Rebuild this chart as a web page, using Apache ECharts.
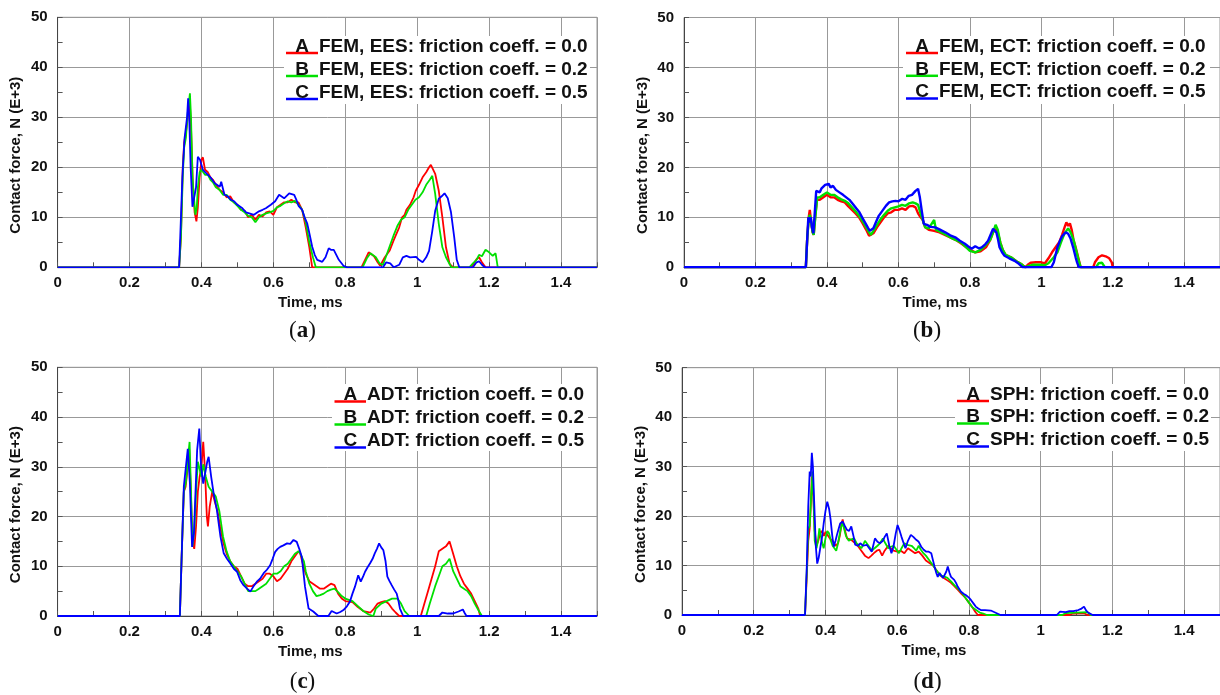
<!DOCTYPE html>
<html><head><meta charset="utf-8">
<script src="https://cdn.jsdelivr.net/npm/echarts@6/dist/echarts.min.js"></script>
<style>html,body{margin:0;padding:0;background:#fff}#c{width:1220px;height:695px}</style>
</head><body><div id="c"></div>
<script>
const letters = ['A', 'B', 'C'];
const colors = ['#ff0000', '#00e000', '#0000ff'];
const panelLetters = ['a', 'b', 'c', 'd'];
const xTitle = 'Time, ms';
const yTitle = 'Contact force, N (E+3)';
const legendTexts = [
  ['FEM, EES: friction coeff. = 0.0', 'FEM, EES: friction coeff. = 0.2', 'FEM, EES: friction coeff. = 0.5'],
  ['FEM, ECT: friction coeff. = 0.0', 'FEM, ECT: friction coeff. = 0.2', 'FEM, ECT: friction coeff. = 0.5'],
  ['ADT: friction coeff. = 0.0', 'ADT: friction coeff. = 0.2', 'ADT: friction coeff. = 0.5'],
  ['SPH: friction coeff. = 0.0', 'SPH: friction coeff. = 0.2', 'SPH: friction coeff. = 0.5']
];

// (a) FEM, EES
const a_A = [[0,0],[0.338,0],[0.343,6],[0.348,20],[0.352,25],[0.357,27],[0.362,30],[0.368,32.5],[0.371,28],[0.376,17],[0.381,11],[0.386,9.2],[0.39,12],[0.395,18],[0.4,21.5],[0.404,22],[0.41,19.5],[0.418,19],[0.425,18],[0.432,17.5],[0.44,16.5],[0.45,15.5],[0.46,15],[0.47,14],[0.48,14.2],[0.49,13],[0.5,12.5],[0.51,11.5],[0.52,11.3],[0.53,10],[0.54,10.5],[0.55,9.5],[0.56,10.5],[0.57,10.2],[0.58,11],[0.59,11.2],[0.6,10.5],[0.61,12],[0.62,12.5],[0.63,13],[0.64,13],[0.65,13.5],[0.66,13],[0.67,13],[0.68,11.5],[0.69,8],[0.7,4],[0.708,0],[0.845,0],[0.855,1.5],[0.865,3],[0.87,3.3],[0.88,2.2],[0.89,1],[0.897,0.3],[0.91,2],[0.923,3.3],[0.935,5.5],[0.95,8],[0.958,10],[0.965,10.5],[0.97,11.5],[0.98,12.5],[0.99,14],[0.996,15.3],[1.005,16.5],[1.015,18],[1.025,19],[1.033,20],[1.038,20.5],[1.042,20.1],[1.05,18.7],[1.06,15.3],[1.07,10],[1.08,4],[1.09,0.7],[1.1,0],[1.15,0],[1.158,0.8],[1.165,1.6],[1.172,2],[1.18,1],[1.19,0],[1.5,0]];
const a_B = [[0,0],[0.338,0],[0.343,6],[0.348,18],[0.352,24],[0.357,26],[0.362,31],[0.368,34.8],[0.371,30],[0.375,18],[0.383,10.5],[0.387,12],[0.39,16],[0.395,19],[0.4,19.5],[0.41,18.5],[0.418,18.5],[0.425,17.5],[0.432,17],[0.44,16],[0.45,15.5],[0.46,14.5],[0.47,14.5],[0.48,13.5],[0.49,13],[0.5,12.3],[0.51,11.5],[0.52,11],[0.53,10.3],[0.54,10],[0.55,9],[0.56,10],[0.57,10.5],[0.58,10.8],[0.59,11],[0.6,11.3],[0.61,12],[0.62,12.3],[0.63,12.8],[0.64,13.2],[0.65,13],[0.66,13.3],[0.67,12.5],[0.68,11.5],[0.69,9],[0.7,5],[0.71,2],[0.718,0],[0.848,0],[0.86,1.8],[0.87,2.8],[0.875,3],[0.885,2],[0.895,0.8],[0.905,0.5],[0.915,2.5],[0.925,4.5],[0.935,6.5],[0.945,8.3],[0.955,9.5],[0.965,10],[0.975,11.5],[0.985,12.5],[0.995,13.5],[1.005,14],[1.015,15],[1.025,16.5],[1.035,17.5],[1.042,18.3],[1.05,14.7],[1.06,8.7],[1.07,4],[1.08,2],[1.095,0],[1.145,0],[1.155,0.8],[1.165,1.5],[1.172,2.5],[1.18,2.2],[1.19,3.5],[1.2,3],[1.21,2.3],[1.218,2.8],[1.224,0],[1.5,0]];
const a_C = [[0,0],[0.338,0],[0.342,8],[0.347,18],[0.353,25.8],[0.357,26],[0.36,30],[0.363,33.8],[0.366,30],[0.37,20],[0.375,12.1],[0.38,12.5],[0.385,16],[0.39,22.1],[0.396,21.5],[0.404,19.5],[0.418,18.5],[0.425,18],[0.437,16.8],[0.451,16.1],[0.455,17.1],[0.464,14.5],[0.473,14.2],[0.482,13.5],[0.491,13.2],[0.5,12.5],[0.514,11.8],[0.524,11],[0.533,10.8],[0.546,10.5],[0.56,11.2],[0.57,11.5],[0.579,11.8],[0.593,12.5],[0.605,13.2],[0.616,14.5],[0.63,13.8],[0.644,14.8],[0.658,14.5],[0.664,13.5],[0.67,12.3],[0.68,11.5],[0.687,10],[0.694,8.8],[0.701,6.5],[0.708,4.1],[0.715,2.5],[0.722,1.5],[0.736,1.1],[0.745,2],[0.754,3.8],[0.76,3.5],[0.768,3.5],[0.775,2.5],[0.782,1.5],[0.795,0.3],[0.805,0],[0.905,0],[0.914,1],[0.925,0.8],[0.935,0],[0.95,0.5],[0.96,2],[0.97,2.3],[0.98,2],[0.997,2.1],[1.005,1.5],[1.015,1],[1.025,2],[1.033,3.3],[1.042,7.3],[1.05,11.3],[1.06,13.7],[1.068,14.2],[1.076,14.8],[1.085,13.8],[1.094,11],[1.103,6],[1.11,1.5],[1.117,0],[1.155,0],[1.165,1],[1.172,1.2],[1.18,0.5],[1.188,0],[1.5,0]];

// (b) FEM, ECT
const b_A = [[0,0],[0.341,0],[0.345,6],[0.349,10],[0.352,11.5],[0.356,9],[0.36,7],[0.363,6.5],[0.367,10],[0.372,13.5],[0.38,13.5],[0.39,14],[0.4,14.5],[0.41,14],[0.42,14],[0.43,13.5],[0.44,13.2],[0.45,13],[0.46,12.2],[0.47,11.5],[0.48,10.8],[0.49,10],[0.5,8.8],[0.51,7.5],[0.518,6.3],[0.523,6],[0.53,6.8],[0.54,8],[0.55,9],[0.56,10],[0.57,10.8],[0.58,11],[0.59,11.5],[0.6,11.5],[0.61,11.8],[0.62,11.5],[0.63,12.2],[0.64,12.3],[0.648,12],[0.655,10.8],[0.662,10],[0.668,9.5],[0.675,8],[0.685,7.5],[0.7,7.3],[0.715,7],[0.73,6.5],[0.745,6],[0.76,5.5],[0.775,4.8],[0.79,4],[0.8,3.5],[0.815,3],[0.83,3.2],[0.845,4],[0.857,5.5],[0.865,7],[0.872,7.7],[0.878,7],[0.885,5],[0.892,3.5],[0.9,2.5],[0.915,2],[0.93,1.2],[0.945,0.6],[0.955,0],[0.962,0.5],[0.97,0.9],[0.985,1],[1.0,1],[1.01,0.8],[1.02,1.8],[1.03,3],[1.04,4],[1.05,5],[1.058,6.5],[1.065,8],[1.07,9],[1.075,8.3],[1.08,8.8],[1.085,7.5],[1.09,5.5],[1.096,4],[1.103,2],[1.11,0],[1.145,0],[1.15,1],[1.16,2],[1.17,2.4],[1.18,2.2],[1.19,1.8],[1.197,1],[1.2,0],[1.5,0]];
const b_B = [[0,0],[0.341,0],[0.345,6],[0.349,9.5],[0.352,10.5],[0.356,9],[0.36,7],[0.363,6.5],[0.368,10.5],[0.373,14],[0.38,14],[0.39,14.5],[0.4,15],[0.41,14.5],[0.42,14.5],[0.43,14],[0.44,13.6],[0.45,13.3],[0.46,12.8],[0.47,12],[0.48,11.2],[0.49,10.3],[0.5,9.2],[0.51,8],[0.518,7],[0.523,6.5],[0.53,7.3],[0.54,8.5],[0.55,9.6],[0.56,10.5],[0.57,11.3],[0.58,11.8],[0.59,12],[0.6,12.2],[0.61,12.5],[0.62,12.3],[0.63,12.8],[0.64,13],[0.648,12.8],[0.655,12.5],[0.662,10.8],[0.668,9.5],[0.675,8],[0.685,7.8],[0.7,9.5],[0.705,7.5],[0.715,7.2],[0.73,6.6],[0.745,6],[0.76,5.5],[0.775,5],[0.79,4],[0.8,3.3],[0.815,3],[0.83,3.5],[0.845,4.5],[0.857,5.5],[0.865,7],[0.872,8.5],[0.878,7.5],[0.885,5],[0.892,3.5],[0.9,2.5],[0.915,2],[0.93,1.2],[0.945,0.6],[0.955,0],[0.965,0.3],[0.975,0.5],[0.995,0.5],[1.01,0.4],[1.02,0.8],[1.035,2],[1.045,3],[1.055,5],[1.065,6.8],[1.075,7.8],[1.082,7],[1.09,5.5],[1.097,3.5],[1.104,1.5],[1.11,0],[1.153,0],[1.16,0.8],[1.17,0.9],[1.178,0],[1.5,0]];
const b_C = [[0,0],[0.341,0],[0.345,6],[0.348,10],[0.352,9],[0.355,10],[0.358,8],[0.362,6.8],[0.366,11],[0.37,15.3],[0.375,15.5],[0.38,15],[0.385,15.8],[0.39,16],[0.395,16.5],[0.4,16.2],[0.405,16.7],[0.41,16],[0.417,16.3],[0.425,15.5],[0.435,15],[0.445,14.5],[0.454,14],[0.463,13.5],[0.472,12.7],[0.482,11.8],[0.491,11],[0.5,9.8],[0.508,8.8],[0.515,7.9],[0.52,7.3],[0.525,7],[0.53,7.8],[0.537,9],[0.545,10.3],[0.555,11.3],[0.565,12.3],[0.574,13],[0.583,13.2],[0.592,13.3],[0.6,13.2],[0.611,13.7],[0.62,13.5],[0.629,14.3],[0.638,14.5],[0.648,15.3],[0.655,15.7],[0.66,14],[0.665,11.5],[0.671,8.7],[0.68,8.5],[0.69,8.1],[0.703,8],[0.715,7.6],[0.731,7],[0.745,6.4],[0.759,6],[0.772,5.3],[0.786,4.7],[0.795,4.2],[0.805,3.7],[0.815,4.2],[0.825,3.8],[0.833,4],[0.843,4.6],[0.851,5.3],[0.858,6.5],[0.865,7.7],[0.87,7.5],[0.874,7],[0.879,5.5],[0.883,4],[0.89,3],[0.897,2.3],[0.91,1.8],[0.925,1.3],[0.937,0.7],[0.948,0],[1.028,0],[1.035,1],[1.04,2.5],[1.045,4],[1.052,5.3],[1.059,6.3],[1.068,7],[1.075,6.7],[1.082,5.7],[1.089,4],[1.096,2],[1.1,1],[1.105,0],[1.5,0]];

// (c) ADT
const c_A = [[0,0],[0.34,0],[0.345,12],[0.351,25],[0.356,26],[0.362,30],[0.366,33.5],[0.37,26],[0.375,15],[0.38,13.5],[0.385,18],[0.39,25],[0.395,28],[0.4,30],[0.405,35],[0.41,29],[0.415,20],[0.418,18],[0.423,22],[0.43,25],[0.437,23],[0.445,21],[0.452,18],[0.46,15],[0.47,12.5],[0.48,11],[0.49,10],[0.5,9.5],[0.51,8],[0.52,6.5],[0.53,6],[0.54,6],[0.55,6.5],[0.56,7],[0.57,7.5],[0.58,8.5],[0.59,8.5],[0.6,8],[0.61,7],[0.62,7.5],[0.63,8.5],[0.64,9.5],[0.65,11],[0.66,12],[0.67,13],[0.675,12.5],[0.68,11],[0.69,8.5],[0.7,7],[0.71,6.5],[0.72,6],[0.73,5.5],[0.74,5.5],[0.75,6],[0.76,6.5],[0.77,6.2],[0.78,4.5],[0.79,3.5],[0.8,3],[0.82,2.8],[0.835,1.8],[0.85,1],[0.87,0.7],[0.88,1.5],[0.89,2.5],[0.9,2.8],[0.91,3],[0.92,2.5],[0.93,1.5],[0.94,0.7],[0.95,0],[1.01,0],[1.02,2.5],[1.03,5],[1.04,7.5],[1.05,10],[1.06,13],[1.07,13.5],[1.08,14],[1.09,15],[1.1,12.5],[1.11,10],[1.12,8],[1.13,6.5],[1.14,5.5],[1.15,4.5],[1.16,3],[1.17,1.5],[1.175,0],[1.5,0]];
const c_B = [[0,0],[0.34,0],[0.345,12],[0.351,25],[0.357,27],[0.363,32],[0.367,35],[0.371,25],[0.375,14],[0.38,17],[0.385,25],[0.39,31],[0.395,29.5],[0.4,28],[0.405,30.5],[0.412,28],[0.42,26],[0.43,25],[0.44,24],[0.45,21],[0.46,16],[0.47,13],[0.48,11],[0.49,10],[0.5,9],[0.51,8],[0.52,6.5],[0.53,5],[0.54,5],[0.55,5],[0.56,5.5],[0.57,6],[0.58,6.5],[0.59,7.5],[0.6,8.5],[0.61,8.5],[0.62,9],[0.63,10],[0.64,10.5],[0.65,11.5],[0.66,12.5],[0.67,13],[0.675,12.5],[0.685,11],[0.69,9],[0.7,6.5],[0.71,5],[0.72,4],[0.73,4.2],[0.74,4.5],[0.75,5],[0.76,5.3],[0.77,5.5],[0.78,4.8],[0.79,4],[0.8,3.5],[0.82,3],[0.835,2],[0.85,1],[0.865,0.3],[0.878,0],[0.885,1.5],[0.9,2.5],[0.915,3],[0.93,3.5],[0.945,3.5],[0.955,2.5],[0.965,1],[0.978,0],[1.025,0],[1.035,2.5],[1.05,6],[1.06,8],[1.07,10],[1.08,10.5],[1.09,11.5],[1.1,9],[1.11,7.5],[1.12,6],[1.13,5.5],[1.14,5],[1.15,4],[1.16,2.5],[1.17,1.2],[1.18,0],[1.5,0]];
const c_C = [[0,0],[0.34,0],[0.345,12],[0.351,26],[0.356,26],[0.362,33.6],[0.368,26.6],[0.371,20],[0.374,13.9],[0.379,16.6],[0.383,24],[0.388,33.3],[0.394,37.7],[0.399,30],[0.405,26.6],[0.411,29],[0.416,31],[0.42,32],[0.427,28],[0.434,24.6],[0.443,21.3],[0.453,15.9],[0.462,12.6],[0.471,11.5],[0.48,10.6],[0.49,9.5],[0.499,8.9],[0.508,7.2],[0.517,6.2],[0.527,5.5],[0.536,4.9],[0.545,6],[0.554,6.9],[0.563,7.5],[0.573,8.6],[0.582,9.3],[0.591,10.2],[0.598,11.5],[0.605,12.9],[0.612,13.5],[0.619,13.9],[0.628,14.2],[0.638,14.6],[0.647,14.5],[0.656,15.3],[0.665,14.9],[0.672,13.5],[0.679,11.9],[0.688,5.9],[0.698,1.5],[0.711,0.9],[0.725,0],[0.753,0],[0.762,1],[0.776,0.5],[0.786,0.8],[0.795,1.2],[0.805,2],[0.813,2.9],[0.82,4.5],[0.827,5.9],[0.836,8.2],[0.843,6.9],[0.85,8],[0.855,8.9],[0.862,9.8],[0.869,10.6],[0.876,11.5],[0.882,12.6],[0.888,13.5],[0.894,14.6],[0.9,13.8],[0.906,13.2],[0.912,11],[0.917,7.9],[0.923,7],[0.929,6.2],[0.936,5.3],[0.943,4.5],[0.948,3],[0.952,1.5],[0.961,0],[1.06,0],[1.07,0.7],[1.085,0.5],[1.1,0.5],[1.115,0.9],[1.127,1.3],[1.132,0.6],[1.137,0],[1.5,0]];

// (d) SPH
const d_A = [[0,0],[0.343,0],[0.348,8],[0.352,15],[0.356,17.5],[0.359,22],[0.362,28],[0.366,24],[0.37,17],[0.375,14],[0.38,15],[0.385,16.5],[0.39,17],[0.396,16],[0.4,16.8],[0.405,16.5],[0.412,15.5],[0.42,15],[0.428,14],[0.435,14.5],[0.44,16],[0.445,18.5],[0.448,19.3],[0.453,17.5],[0.46,15.5],[0.468,15.3],[0.475,15],[0.483,14.5],[0.49,14],[0.5,13],[0.51,12],[0.52,11.5],[0.528,12],[0.535,12.5],[0.543,13],[0.55,13.2],[0.558,12],[0.565,13],[0.575,14],[0.582,13.5],[0.59,13],[0.6,12.8],[0.61,13],[0.62,12.5],[0.63,13.5],[0.64,13],[0.65,12.5],[0.66,12.8],[0.67,12],[0.68,11],[0.69,10.5],[0.7,10],[0.71,9],[0.72,8],[0.73,7.5],[0.74,7],[0.75,6.5],[0.76,5.8],[0.77,5],[0.78,4.2],[0.79,3.5],[0.8,2.5],[0.81,1.5],[0.818,0.6],[0.825,0],[1.08,0],[1.09,0.3],[1.12,0.4],[1.13,0],[1.5,0]];
const d_B = [[0,0],[0.343,0],[0.348,9],[0.352,17.5],[0.356,18],[0.36,24],[0.364,29],[0.367,23],[0.37,15],[0.375,13.5],[0.379,15],[0.383,17.5],[0.387,16],[0.391,14.5],[0.395,13.5],[0.4,15.5],[0.405,17],[0.41,16.5],[0.415,15],[0.42,14],[0.425,13.5],[0.43,13],[0.435,14.5],[0.44,16.5],[0.446,18.5],[0.45,18],[0.457,16],[0.465,15],[0.472,15.3],[0.48,15.5],[0.487,14.5],[0.494,14],[0.5,13.5],[0.506,14.3],[0.51,15],[0.52,14],[0.53,13],[0.537,13.5],[0.545,14],[0.552,14.5],[0.56,15.5],[0.567,14.5],[0.575,13.5],[0.582,13.8],[0.59,14],[0.598,13.2],[0.605,12.5],[0.612,13.5],[0.62,14.5],[0.628,14.2],[0.64,14],[0.647,13.5],[0.653,13],[0.66,14],[0.666,13.2],[0.673,12.5],[0.68,12],[0.69,11],[0.7,10],[0.71,9],[0.72,8],[0.73,7.8],[0.74,7.5],[0.75,6.8],[0.76,6],[0.77,5.3],[0.78,4.5],[0.79,3.5],[0.8,2.5],[0.81,1.5],[0.82,1],[0.83,0.5],[0.84,0.3],[0.85,0],[1.06,0],[1.07,0.4],[1.1,0.5],[1.13,0.6],[1.14,0],[1.5,0]];
const d_C = [[0,0],[0.343,0],[0.348,10],[0.352,22],[0.356,29],[0.359,28],[0.362,32.8],[0.365,30],[0.369,22],[0.373,14],[0.377,10.4],[0.381,11.5],[0.386,13.8],[0.391,16],[0.395,18.5],[0.4,21],[0.405,22.9],[0.41,21.5],[0.414,19.5],[0.419,16],[0.423,13.8],[0.428,15],[0.432,16.2],[0.437,17.5],[0.441,18.5],[0.448,18.9],[0.454,18],[0.46,17.2],[0.466,17],[0.472,17.9],[0.478,16],[0.483,14.2],[0.49,14],[0.497,14.5],[0.505,14],[0.515,14.2],[0.522,13.5],[0.529,12.8],[0.538,15.5],[0.545,14.8],[0.552,14.5],[0.56,15],[0.565,15.8],[0.571,16.5],[0.578,14],[0.584,12.5],[0.59,14],[0.596,16.5],[0.601,18.2],[0.607,17],[0.612,15.8],[0.618,14.5],[0.623,13.5],[0.63,15],[0.638,16.2],[0.645,15.8],[0.653,15.2],[0.66,14.8],[0.667,13.8],[0.674,13.2],[0.681,12.8],[0.688,12.8],[0.695,12.5],[0.7,11],[0.704,9.8],[0.709,8.5],[0.713,7.7],[0.718,8.5],[0.723,8.4],[0.728,7.5],[0.732,7.4],[0.737,8.8],[0.741,9.8],[0.746,8.5],[0.75,7.7],[0.755,7.5],[0.759,7.1],[0.764,6.5],[0.769,5.7],[0.778,4.7],[0.785,4.3],[0.792,4],[0.8,3.5],[0.806,3],[0.813,2.3],[0.819,1.7],[0.826,1.3],[0.833,1],[0.845,1],[0.861,0.9],[0.87,0.6],[0.879,0.3],[0.888,0],[1.045,0],[1.054,0.7],[1.07,0.6],[1.08,0.8],[1.091,0.8],[1.105,1],[1.114,1.3],[1.121,1.7],[1.126,1],[1.132,0.5],[1.145,0],[1.5,0]];

const panels = [[a_A, a_B, a_C], [b_A, b_B, b_C], [c_A, c_B, c_C], [d_A, d_B, d_C]];
const lineWidths = [1.8, 2.4, 1.8, 1.8];

// layout (pixels)
const grids = [
  {left: 57.6, top: 17.3, width: 539.4, height: 250},
  {left: 684, top: 17.5, width: 539, height: 249.8},
  {left: 57.6, top: 367.3, width: 539.4, height: 248.7},
  {left: 682, top: 367.7, width: 542, height: 247.3}
];
const legendLayout = [
  {x1: 286, x2: 318, rows: [46.5, 69.5, 92.5], rect: [284, 36, 306, 68]},
  {x1: 906, x2: 938, rows: [46.5, 69.3, 92], rect: [903, 36, 307, 68]},
  {x1: 334.5, x2: 366, rows: [395, 418, 441], rect: [332, 384, 256, 67]},
  {x1: 957, x2: 989, rows: [394.5, 417, 440], rect: [955, 384, 256, 67]}
];
const captionPos = [[302.5, 331], [927, 331], [302.5, 682], [927.5, 682]];

const FONT = 'Liberation Sans';
const option = {
  animation: false,
  backgroundColor: '#fff',
  grid: grids.map(g => Object.assign({show: true, borderColor: '#999', borderWidth: 1, containLabel: false}, g)),
  xAxis: grids.map((g, i) => ({
    type: 'value', gridIndex: i, min: 0, max: 1.5, interval: 0.2,
    name: xTitle, nameLocation: 'middle', nameGap: 28,
    nameTextStyle: {fontFamily: FONT, fontWeight: 'bold', fontSize: 15, color: '#111', padding: [0, 34, 0, 0]},
    axisLine: {show: true, onZero: false, lineStyle: {color: '#444', width: 1}},
    axisTick: {show: true, inside: true, length: 5, lineStyle: {color: '#555'}},
    minorTick: {show: true, splitNumber: 2, length: 5, lineStyle: {color: '#555'}},
    splitLine: {show: true, lineStyle: {color: '#999', width: 1}},
    axisLabel: {fontFamily: FONT, fontWeight: 'bold', fontSize: 15, color: '#111', margin: 8, showMaxLabel: false,
      formatter: v => (v > 1.45 ? '' : String(+v.toFixed(1)))}
  })),
  yAxis: grids.map((g, i) => ({
    type: 'value', gridIndex: i, min: 0, max: 50, interval: 10,
    name: yTitle, nameLocation: 'middle', nameGap: 34, nameRotate: 90,
    nameTextStyle: {fontFamily: FONT, fontWeight: 'bold', fontSize: 15, color: '#111', padding: [0, 26, 0, 0]},
    axisLine: {show: true, lineStyle: {color: '#444', width: 1}},
    axisTick: {show: true, inside: true, length: 5, lineStyle: {color: '#555'}},
    minorTick: {show: true, splitNumber: 2, length: 5, lineStyle: {color: '#555'}},
    splitLine: {show: true, lineStyle: {color: '#999', width: 1}},
    axisLabel: {fontFamily: FONT, fontWeight: 'bold', fontSize: 15, color: '#111', margin: 10}
  })),
  series: [],
  graphic: []
};

panels.forEach((p, i) => {
  p.forEach((data, k) => {
    option.series.push({
      type: 'line', name: letters[k] + ' ' + legendTexts[i][k], xAxisIndex: i, yAxisIndex: i,
      data: data, showSymbol: false, symbol: 'none', smooth: false,
      lineStyle: {color: colors[k], width: lineWidths[i]}, itemStyle: {color: colors[k]}, z: 2 + k
    });
  });
  const L = legendLayout[i];
  option.graphic.push({type: 'rect', z: 100, shape: {x: L.rect[0], y: L.rect[1], width: L.rect[2], height: L.rect[3]},
    style: {fill: '#fff'}});
  L.rows.forEach((y, k) => {
    option.graphic.push({type: 'line', z: 101, shape: {x1: L.x1, y1: y + 6.5, x2: L.x2, y2: y + 6.5},
      style: {stroke: colors[k], lineWidth: 2.5}});
    option.graphic.push({type: 'text', z: 102, x: (L.x1 + L.x2) / 2, y: y,
      style: {text: letters[k], fontFamily: FONT, fontWeight: 'bold', fontSize: 19, fill: '#111', align: 'center', verticalAlign: 'middle'}});
    option.graphic.push({type: 'text', z: 102, x: L.x2 + 1, y: y,
      style: {text: legendTexts[i][k], fontFamily: FONT, fontWeight: 'bold', fontSize: 19, fill: '#111', align: 'left', verticalAlign: 'middle'}});
  });
  option.graphic.push({type: 'text', z: 102, x: captionPos[i][0], y: captionPos[i][1],
    style: {text: '{p|(}{b|' + panelLetters[i] + '}{p|)}', align: 'center', verticalAlign: 'middle',
      rich: {p: {fontFamily: 'Liberation Serif', fontSize: 23, fill: '#111'},
             b: {fontFamily: 'Liberation Serif', fontSize: 23, fontWeight: 'bold', fill: '#111'}}}});
});

const chart = echarts.init(document.getElementById('c'), null, {renderer: 'canvas'});
chart.setOption(option);
</script></body></html>
